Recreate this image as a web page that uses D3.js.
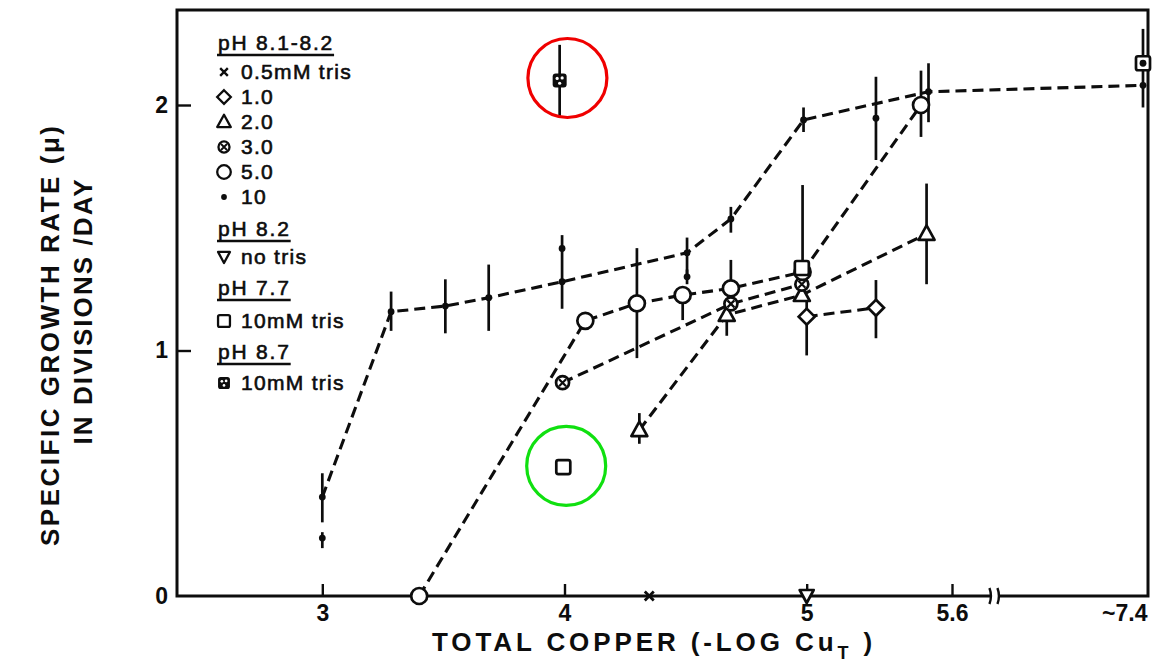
<!DOCTYPE html>
<html><head><meta charset="utf-8">
<script src="https://cdn.jsdelivr.net/npm/d3@7"></script>
<style>body{margin:0;background:#fff}svg{display:block}</style>
</head><body><svg id="c" width="1174" height="667"></svg>
<script>
// ---------- data ----------
const xTickValues = [3, 4, 5, 5.6, 7.4];
const xTickLabels = ["3", "4", "5", "5.6", "~7.4"];
const yTickValues = [0, 1, 2];
const xBreakAt = 6.0;

// pH 8.1-8.2, 10 mM tris (dots), connected
const dot10X  = [3.0, 3.284, 3.508, 3.687, 3.99, 4.506, 4.687, 4.987, 5.503, 7.4];
const dot10Y  = [0.403, 1.158, 1.181, 1.215, 1.28, 1.398, 1.536, 1.939, 2.054, 2.08];
const dot10Lo = [0.30, 1.08, 1.07, 1.08, 1.17, 1.30, 1.48, 1.89, 1.93, 1.99];
const dot10Hi = [0.50, 1.24, 1.29, 1.35, 1.47, 1.46, 1.585, 1.99, 2.17, 2.31];
// extra replicate dots (not connected)
const dot10ExtraX  = [3.0, 3.99, 4.506, 5.286, 7.4];
const dot10ExtraY  = [0.236, 1.416, 1.30, 1.946, 2.17];
const dot10ExtraLo = [0.195, null, 1.27, 1.776, null];
const dot10ExtraHi = [0.26, null, 1.33, 2.115, null];

// 5.0 mM tris (open circles)
const circ5X  = [3.40, 4.086, 4.299, 4.488, 4.687, 4.983, 5.472];
const circ5Y  = [0, 1.121, 1.192, 1.226, 1.253, 1.32, 2.0];
const circ5Lo = [null, null, 0.969, 1.124, 1.253, 1.32, 1.87];
const circ5Hi = [null, null, 1.417, 1.26, 1.369, 1.674, 2.14];

// 3.0 mM tris (circled x)
const ot3X = [3.992, 4.687, 4.98];
const ot3Y = [0.869, 1.19, 1.27];

// 2.0 mM tris (triangles)
const tri2X  = [4.309, 4.67, 4.98, 5.495];
const tri2Y  = [0.676, 1.145, 1.226, 1.475];
const tri2Lo = [0.62, 1.06, null, 1.27];
const tri2Hi = [0.745, null, null, 1.68];

// 1.0 mM tris (diamonds)
const dia1X  = [5.0, 5.286];
const dia1Y  = [1.138, 1.174];
const dia1Lo = [0.98, 1.05];
const dia1Hi = [1.2, 1.287];

// 0.5 mM tris (x)
const x05X = [4.35];
const x05Y = [0];

// pH 8.2 no tris (inverted triangle)
const noTrisX = [5.0];
const noTrisY = [0];

// pH 7.7 10 mM tris (squares)
const sq77X = [3.995, 4.98, 7.4];
const sq77Y = [0.525, 1.336, 2.17];

// pH 8.7 10 mM tris (dotted squares)
const sq87X  = [3.98];
const sq87Y  = [2.10];
const sq87Lo = [1.95];
const sq87Hi = [2.245];

// highlight rings
const ringX = [4.012, 4.007];
const ringY = [2.11, 0.53];
const ringColor = ["#f00000", "#10e010"];

// legend
const legendHeads = ["pH 8.1-8.2", "pH 8.2", "pH 7.7", "pH 8.7"];
const legendSyms  = [["x","diamond","tri","otimes","circle","dot"], ["triDown"], ["square"], ["squareDots"]];
const legendTexts = [["0.5mM tris","1.0","2.0","3.0","5.0","10"], ["no tris"], ["10mM tris"], ["10mM tris"]];

// ---------- layout ----------
const M = {left: 177, top: 10, right: 1148, bottom: 596};
const W = M.right - M.left, H = M.bottom - M.top;
const svg = d3.select("#c");
svg.append("rect").attr("width",1174).attr("height",667).attr("fill","#fff");
const g = svg.append("g").attr("transform", `translate(${M.left},${M.top})`);

const x = d3.scaleLinear().domain([2.4, 5.6, 7.4]).range([0, 775, 966]);
const y = d3.scaleLinear().domain([0, 2.387]).range([H, 0]);

const SW = 3.1;
const ink = "#0d0d0d";
const LF = "Liberation Sans, Arial, sans-serif";

// frame
g.append("rect").attr("x",0).attr("y",0).attr("width",W).attr("height",H)
  .attr("fill","none").attr("stroke",ink).attr("stroke-width",3);

// x ticks (inward)
const xAxis = d3.axisBottom(x).tickValues(xTickValues).tickSizeInner(-12).tickSizeOuter(0)
  .tickPadding(7).tickFormat((d,i)=>xTickLabels[i]);
const gx = g.append("g").attr("transform",`translate(0,${H})`).call(xAxis);
gx.select(".domain").remove();
gx.selectAll(".tick line").attr("stroke",ink).attr("stroke-width",2.4)
  .filter(d=>d===7.4).remove();
gx.selectAll(".tick text").attr("font-family",LF)
  .attr("font-weight","bold").attr("font-size",23).attr("fill",ink)
  .attr("dy","0.8em")
  .attr("text-anchor",d=>d===7.4?"end":"middle")
  .attr("dx",d=>d===7.4?4:0);

// y ticks (inward)
const yAxis = d3.axisLeft(y).tickValues(yTickValues).tickSizeInner(-14).tickSizeOuter(0)
  .tickPadding(9).tickFormat(d3.format("d"));
const gy = g.append("g").call(yAxis);
gy.select(".domain").remove();
gy.selectAll(".tick line").attr("stroke",ink).attr("stroke-width",2.4).filter(d=>d===0).remove();
gy.selectAll(".tick text").attr("font-family",LF)
  .attr("font-weight","bold").attr("font-size",23).attr("fill",ink);

// axis break
const bx = x(xBreakAt);
g.append("rect").attr("x",bx-4).attr("y",H-3).attr("width",8).attr("height",6).attr("fill","#fff");
[-4,4].forEach(o=>{
  g.append("path").attr("d",`M${bx+o-1},${H-8} q3,8 0,16`).attr("fill","none")
   .attr("stroke",ink).attr("stroke-width",2.4);
});

// ---------- marks ----------
const pts = (xs,ys,lo,hi)=>xs.map((v,i)=>({x:v,y:ys[i],lo:lo?lo[i]:null,hi:hi?hi[i]:null}));
const sDot = pts(dot10X,dot10Y,dot10Lo,dot10Hi);
const sDotX = pts(dot10ExtraX,dot10ExtraY,dot10ExtraLo,dot10ExtraHi);
const sCirc = pts(circ5X,circ5Y,circ5Lo,circ5Hi);
const sOt = pts(ot3X,ot3Y);
const sTri = pts(tri2X,tri2Y,tri2Lo,tri2Hi);
const sDia = pts(dia1X,dia1Y,dia1Lo,dia1Hi);
const sX05 = pts(x05X,x05Y);
const sNo = pts(noTrisX,noTrisY);
const sSq = pts(sq77X,sq77Y);
const sSq87 = pts(sq87X,sq87Y,sq87Lo,sq87Hi);

const line = d3.line().x(d=>x(d.x)).y(d=>y(d.y));
[sDot,sCirc,sOt,sTri,sDia].forEach(s=>{
  g.append("path").datum(s).attr("d",line).attr("fill","none").attr("stroke",ink)
   .attr("stroke-width",SW).attr("stroke-dasharray","11,6");
});

// error bars
[sDot,sDotX,sCirc,sTri,sDia,sSq87].forEach(s=>{
  g.selectAll(null).data(s.filter(d=>d.lo!=null||d.hi!=null)).enter().append("line")
   .attr("x1",d=>x(d.x)).attr("x2",d=>x(d.x))
   .attr("y1",d=>y(d.lo!=null?d.lo:d.y)).attr("y2",d=>y(d.hi!=null?d.hi:d.y))
   .attr("stroke",ink).attr("stroke-width",2.7);
});

function sym(sel, type){
  const sw = 2.7;
  if(type==="dot"){ sel.append("circle").attr("r",3.4).attr("fill",ink); }
  else if(type==="circle"){ sel.append("circle").attr("r",8).attr("fill","#fff").attr("stroke",ink).attr("stroke-width",sw); }
  else if(type==="diamond"){ sel.append("path").attr("d","M0,-8L8,0L0,8L-8,0Z").attr("fill","#fff").attr("stroke",ink).attr("stroke-width",sw); }
  else if(type==="tri"){ sel.append("path").attr("d","M0,-8.5L8,6L-8,6Z").attr("fill","#fff").attr("stroke",ink).attr("stroke-width",sw).attr("stroke-linejoin","round"); }
  else if(type==="triDown"){ sel.append("path").attr("d","M0,7L7,-6L-7,-6Z").attr("fill","#fff").attr("stroke",ink).attr("stroke-width",sw).attr("stroke-linejoin","round"); }
  else if(type==="otimes"){
    sel.append("circle").attr("r",6.5).attr("fill","#fff").attr("stroke",ink).attr("stroke-width",sw);
    sel.append("path").attr("d","M-3.5,-3.5L3.5,3.5M3.5,-3.5L-3.5,3.5").attr("stroke",ink).attr("stroke-width",2.2);
  }
  else if(type==="square"){ sel.append("rect").attr("x",-7).attr("y",-7).attr("width",14).attr("height",14).attr("rx",2).attr("fill","#fff").attr("stroke",ink).attr("stroke-width",sw); }
  else if(type==="squareDots"){
    sel.append("rect").attr("x",-7).attr("y",-7).attr("width",14).attr("height",14).attr("rx",3).attr("fill",ink);
    [[-2.5,-2],[2.5,-2.5],[0,2.8]].forEach(p=>sel.append("circle").attr("cx",p[0]).attr("cy",p[1]).attr("r",1.6).attr("fill","#fff"));
  }
  else if(type==="x"){ sel.append("path").attr("d","M-4.5,-4.5L4.5,4.5M4.5,-4.5L-4.5,4.5").attr("stroke",ink).attr("stroke-width",2.8); }
}
function drawSeries(s,type){
  g.selectAll(null).data(s).enter().append("g")
   .attr("transform",d=>`translate(${x(d.x)},${y(d.y)})`)
   .each(function(){ sym(d3.select(this),type); });
}
drawSeries(sDia,"diamond");
drawSeries(sTri,"tri");
drawSeries(sOt,"otimes");
drawSeries(sCirc,"circle");
drawSeries(sSq,"square");
drawSeries(sSq87,"squareDots");
drawSeries(sX05,"x");
drawSeries(sNo,"triDown");
drawSeries(sDot,"dot");
drawSeries(sDotX,"dot");

// highlight rings
g.selectAll(null).data(ringX.map((v,i)=>({x:v,y:ringY[i],c:ringColor[i]}))).enter().append("circle")
 .attr("cx",d=>x(d.x)).attr("cy",d=>y(d.y)).attr("r",39.5)
 .attr("fill","none").attr("stroke",d=>d.c).attr("stroke-width",3.2);

// ---------- legend ----------
const lg = svg.append("g");
const headY = [43, 229, 288, 352];
const itemY = [[72,97,122,147,172,197],[257],[321],[383]];
legendHeads.forEach((h,gi)=>{
  const t = lg.append("text").attr("x",218).attr("y",headY[gi]).attr("dy","0.35em")
    .attr("font-family",LF).attr("font-size",21).attr("letter-spacing",1.8)
    .attr("fill",ink).attr("stroke",ink).attr("stroke-width",0.6).text(h);
  const wdt = t.node().getComputedTextLength();
  lg.append("line").attr("x1",217).attr("x2",218+wdt).attr("y1",headY[gi]+12).attr("y2",headY[gi]+12)
    .attr("stroke",ink).attr("stroke-width",2.4);
  legendSyms[gi].forEach((s,k)=>{
    const gs = lg.append("g").attr("transform",`translate(224,${itemY[gi][k]}) scale(0.85)`);
    sym(gs,s);
    lg.append("text").attr("x",241).attr("y",itemY[gi][k]).attr("dy","0.35em")
      .attr("font-family",LF).attr("font-size",21).attr("letter-spacing",1.3)
      .attr("fill",ink).attr("stroke",ink).attr("stroke-width",0.6).text(legendTexts[gi][k]);
  });
});

// ---------- titles ----------
const xt = svg.append("text").attr("x",432).attr("y",651)
  .attr("font-family",LF).attr("font-weight","bold").attr("font-size",26).attr("fill",ink)
  .attr("letter-spacing",3.9);
xt.append("tspan").text("TOTAL COPPER (-LOG Cu");
xt.append("tspan").attr("font-size",18).attr("dy",8).text("T");
xt.append("tspan").attr("dy",-8).text(" )");

svg.append("text").attr("transform","translate(59,336) rotate(-90)")
  .attr("text-anchor","middle").attr("font-family",LF).attr("font-weight","bold")
  .attr("font-size",26).attr("fill",ink)
  .attr("textLength",420).attr("lengthAdjust","spacing")
  .text("SPECIFIC GROWTH RATE (\u03BC)");
svg.append("text").attr("transform","translate(92,312) rotate(-90)")
  .attr("text-anchor","middle").attr("font-family",LF).attr("font-weight","bold")
  .attr("font-size",26).attr("fill",ink)
  .attr("textLength",265).attr("lengthAdjust","spacing")
  .text("IN DIVISIONS /DAY");
</script></body></html>
